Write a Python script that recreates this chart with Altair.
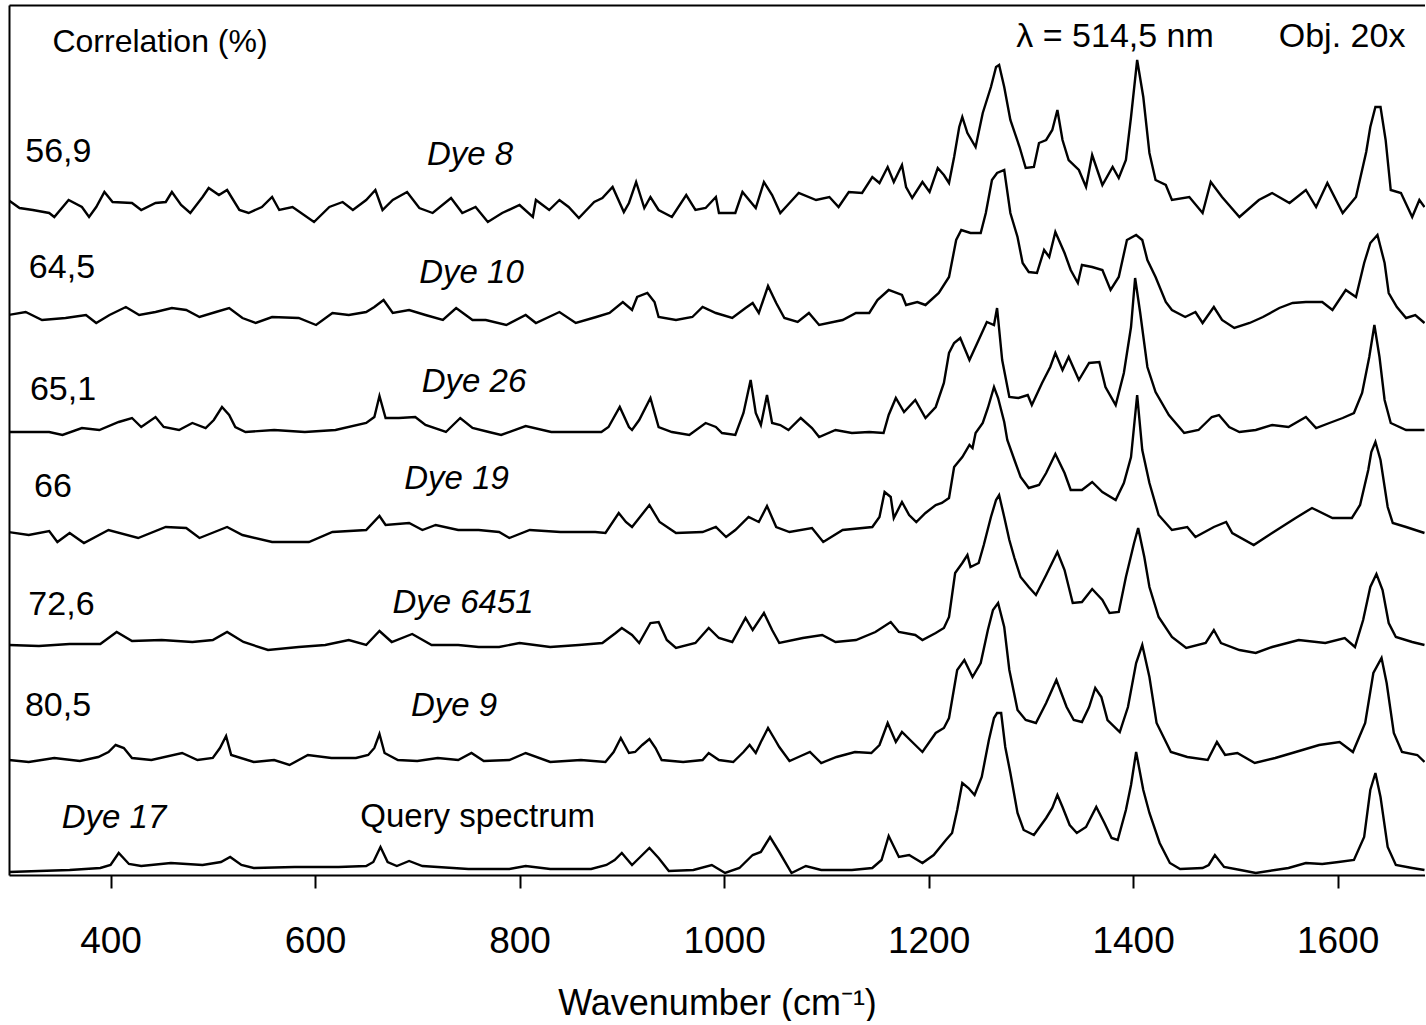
import altair as alt
import pandas as pd

# ---- spectra: (wavenumber cm-1, stacked height in display units) ----
DYE8 = [(300,675),(311,667),(324,665),(340,662),(345,658),(359,675),(372,668),(379,658),(386,668),(394,683),(402,673),(421,672),(430,665),(444,672),(454,673),(460,683),(469,670),(478,662),(490,678),(496,687),(506,680),(514,685),(526,665),(535,662),(548,668),(558,678),(565,665),(578,668),(599,653),(614,668),(627,673),(637,665),(650,675),(659,685),(666,665),(676,675),(690,683),(702,667),(715,662),(733,677),(744,662),(757,668),(769,653),(783,662),(800,670),(813,658),(816,675),(829,665),(839,675),(848,668),(858,657),(873,673),(881,677),(891,688),(902,663),(907,672),(914,693),(922,667),(928,678),(936,665),(949,658),(963,680),(972,665),(982,667),(992,678),(995,662),(1011,662),(1018,683),(1031,667),(1039,693),(1047,680),(1055,662),(1064,672),(1073,682),(1090,675),(1103,678),(1112,668),(1122,683),(1135,682),(1145,698),(1152,692),(1160,708),(1166,693),(1174,710),(1178,688),(1184,677),(1194,693),(1201,683),(1209,707),(1215,700),(1220,692),(1225,718),(1230,748),(1233,758),(1238,742),(1246,728),(1253,762),(1261,788),(1266,808),(1269,810),(1274,788),(1280,755),(1289,728),(1295,707),(1303,708),(1308,732),(1315,735),(1321,745),(1326,765),(1331,735),(1337,715),(1347,705),(1354,688),(1360,720),(1370,690),(1380,708),(1386,697),(1393,715),(1398,758),(1404,815),(1410,778),(1416,722),(1422,695),(1432,690),(1438,675),(1455,678),(1468,662),(1476,693),(1487,678),(1504,658),(1523,675),(1536,682),(1553,672),(1569,685),(1579,668),(1590,692),(1605,662),(1618,678),(1628,723),(1632,748),(1637,768),(1642,768),(1647,735),(1652,685),(1662,682),(1673,658),(1680,675),(1685,668)]

DYE10 = [(300,560),(317,563),(333,555),(356,557),(376,560),(386,552),(399,560),(415,568),(428,560),(444,563),(460,567),(474,565),(487,558),(503,563),(516,567),(529,557),(542,552),(558,558),(584,557),(601,550),(617,562),(633,560),(650,563),(658,568),(667,575),(676,562),(692,565),(708,560),(725,555),(738,567),(754,555),(767,555),(787,550),(806,560),(816,552),(839,563),(855,552),(875,558),(888,562),(901,573),(910,565),(915,578),(925,582),(932,573),(936,558),(953,555),(969,558),(979,568),(992,562),(1008,557),(1021,567),(1028,572),(1034,562),(1043,589),(1051,572),(1059,557),(1072,553),(1083,562),(1093,550),(1116,555),(1129,562),(1142,562),(1150,575),(1161,585),(1174,580),(1178,570),(1189,573),(1197,570),(1210,582),(1220,598),(1227,635),(1232,645),(1241,642),(1251,642),(1256,662),(1262,695),(1267,702),(1274,705),(1280,662),(1287,638),(1292,612),(1298,603),(1306,602),(1313,625),(1318,618),(1324,643),(1333,622),(1339,605),(1346,592),(1350,610),(1360,608),(1370,605),(1378,585),(1386,598),(1394,635),(1403,640),(1409,635),(1414,615),(1422,598),(1432,573),(1438,565),(1451,558),(1461,563),(1468,552),(1479,568),(1487,555),(1499,547),(1514,552),(1527,558),(1543,567),(1556,572),(1569,573),(1585,573),(1595,565),(1608,585),(1618,578),(1626,612),(1632,632),(1639,640),(1646,612),(1650,582),(1658,568),(1667,557),(1676,560),(1685,552)]

DYE26 = [(300,443),(340,443),(353,440),(372,447),(389,445),(408,453),(421,457),(430,448),(444,458),(452,448),(467,445),(480,452),(493,447),(501,455),(509,468),(516,460),(522,448),(532,443),(560,445),(590,443),(620,445),(650,452),(658,458),(663,479),(669,457),(682,457),(698,458),(708,450),(728,443),(742,457),(754,447),(770,443),(782,440),(806,449),(831,443),(860,443),(880,443),(887,448),(898,468),(907,448),(910,445),(917,455),(928,477),(936,448),(949,443),(966,440),(982,452),(992,448),(998,442),(1011,440),(1019,462),(1026,495),(1031,462),(1036,450),(1042,480),(1047,452),(1055,450),(1063,445),(1075,457),(1086,447),(1093,438),(1109,445),(1125,442),(1142,443),(1156,442),(1161,460),(1168,477),(1176,463),(1187,475),(1197,457),(1207,468),(1215,492),(1220,522),(1225,532),(1231,537),(1240,515),(1249,535),(1257,553),(1264,550),(1267,567),(1272,515),(1279,478),(1288,477),(1297,480),(1301,470),(1311,492),(1319,508),(1324,522),(1331,505),(1337,518),(1347,495),(1357,512),(1367,513),(1373,488),(1383,470),(1391,502),(1398,548),(1402,597),(1407,562),(1414,508),(1422,483),(1435,460),(1450,442),(1464,445),(1477,458),(1484,460),(1494,448),(1504,443),(1520,445),(1536,450),(1552,448),(1569,458),(1579,447),(1592,452),(1605,457),(1616,462),(1624,482),(1631,518),(1636,550),(1641,518),(1646,475),(1652,452),(1667,445),(1685,445)]

DYE19 = [(300,343),(320,340),(340,344),(348,333),(360,342),(374,332),(398,345),(427,337),(454,348),(474,347),(487,337),(514,348),(529,340),(558,333),(594,333),(617,343),(650,345),(663,359),(669,350),(692,352),(705,345),(718,350),(740,345),(760,345),(780,343),(790,337),(810,345),(840,343),(874,343),(884,342),(897,362),(904,353),(910,348),(917,357),(927,370),(937,353),(953,342),(979,343),(992,348),(1002,338),(1011,345),(1024,358),(1034,353),(1042,369),(1051,348),(1064,343),(1086,347),(1097,333),(1116,345),(1145,348),(1152,358),(1157,383),(1163,378),(1166,357),(1174,373),(1181,360),(1188,353),(1197,362),(1207,370),(1213,372),(1220,377),(1225,408),(1233,418),(1240,430),(1243,427),(1246,442),(1253,452),(1258,467),(1264,488),(1268,477),(1274,453),(1277,435),(1284,415),(1290,398),(1298,387),(1308,390),(1315,402),(1324,421),(1333,402),(1339,385),(1350,385),(1360,393),(1370,383),(1383,375),(1391,392),(1398,418),(1404,480),(1409,425),(1416,392),(1425,360),(1438,345),(1453,348),(1461,338),(1479,348),(1491,353),(1497,342),(1518,330),(1536,342),(1559,357),(1575,367),(1595,357),(1614,357),(1622,370),(1630,405),(1633,423),(1637,433),(1642,415),(1649,368),(1654,352),(1667,348),(1685,342)]

DYE6451 = [(300,230),(330,229),(360,231),(390,231),(406,243),(421,234),(450,235),(480,233),(500,235),(514,243),(530,233),(554,225),(584,228),(610,230),(633,235),(650,230),(663,244),(675,233),(695,241),(714,230),(740,230),(760,228),(780,228),(800,232),(830,228),(858,230),(881,232),(894,242),(900,247),(910,240),(917,232),(928,252),(936,253),(944,235),(953,227),(972,232),(985,247),(995,237),(1008,233),(1021,257),(1028,245),(1039,262),(1047,245),(1054,232),(1077,237),(1096,240),(1109,233),(1129,235),(1148,243),(1163,253),(1171,243),(1187,240),(1194,235),(1207,242),(1215,247),(1220,258),(1226,302),(1233,312),(1238,320),(1241,308),(1249,312),(1254,330),(1261,358),(1266,375),(1269,380),(1274,358),(1279,335),(1284,317),(1290,298),(1298,288),(1305,280),(1315,300),(1326,323),(1333,305),(1341,272),(1350,273),(1360,286),(1370,275),(1377,262),(1386,263),(1393,298),(1401,332),(1405,347),(1411,318),(1416,288),(1425,258),(1438,238),(1452,227),(1471,232),(1479,245),(1486,232),(1504,225),(1520,222),(1536,228),(1562,235),(1588,232),(1607,237),(1617,228),(1625,255),(1632,288),(1638,301),(1644,285),(1650,252),(1657,238),(1673,233),(1685,230)]

DYE9 = [(300,115),(320,113),(345,117),(370,114),(388,118),(398,123),(405,130),(413,127),(421,117),(440,115),(470,122),(485,115),(500,117),(507,127),(513,139),(518,120),(540,113),(560,115),(575,110),(593,120),(616,117),(640,117),(652,120),(658,127),(663,141),(668,122),(681,115),(700,114),(720,117),(740,115),(753,122),(765,114),(790,115),(806,122),(830,113),(860,115),(884,113),(892,123),(899,137),(907,122),(913,123),(920,130),(927,136),(933,127),(939,115),(960,113),(979,115),(985,122),(995,115),(1009,113),(1019,123),(1025,130),(1031,122),(1036,133),(1043,147),(1050,135),(1054,128),(1064,114),(1075,119),(1084,123),(1095,112),(1110,118),(1128,123),(1144,122),(1152,130),(1160,152),(1168,133),(1174,143),(1184,133),(1194,123),(1207,142),(1215,147),(1220,157),(1228,205),(1235,215),(1243,198),(1251,212),(1258,245),(1263,265),(1268,272),(1274,248),(1279,205),(1287,165),(1295,155),(1305,152),(1315,172),(1325,195),(1335,168),(1342,155),(1350,153),(1357,168),(1363,187),(1369,178),(1375,155),(1387,143),(1395,168),(1403,212),(1409,230),(1416,198),(1423,152),(1437,123),(1453,118),(1473,115),(1482,133),(1490,120),(1502,122),(1519,112),(1539,117),(1559,123),(1582,130),(1602,133),(1615,123),(1627,152),(1635,202),(1643,217),(1648,192),(1655,142),(1663,123),(1678,120),(1685,113)]

QUERY = [(300,3),(330,4),(360,5),(390,7),(400,10),(408,22),(418,11),(430,9),(459,12),(490,10),(508,13),(517,18),(528,10),(540,7),(580,8),(623,8),(650,9),(657,13),(664,28),(671,13),(680,9),(692,14),(705,9),(750,6),(790,6),(806,9),(830,6),(870,6),(885,10),(893,15),(900,22),(910,10),(918,18),(927,27),(936,17),(946,4),(970,5),(988,10),(1001,2),(1015,7),(1028,20),(1036,23),(1045,38),(1054,23),(1066,2),(1080,9),(1095,5),(1125,5),(1145,7),(1154,15),(1161,39),(1171,18),(1181,20),(1194,12),(1205,20),(1217,35),(1223,42),(1228,65),(1233,92),(1239,87),(1245,80),(1252,98),(1259,135),(1264,157),(1267,162),(1271,162),(1275,128),(1280,102),(1287,62),(1293,45),(1303,40),(1315,57),(1321,67),(1326,80),(1331,68),(1338,50),(1345,42),(1354,48),(1364,68),(1372,52),(1379,37),(1385,35),(1393,65),(1398,90),(1403,123),(1410,85),(1416,62),(1426,32),(1436,12),(1446,6),(1468,7),(1474,10),(1480,20),(1489,8),(1505,5),(1520,2),(1552,7),(1569,12),(1585,11),(1601,13),(1616,15),(1626,38),(1632,85),(1637,102),(1642,78),(1649,28),(1657,10),(1673,7),(1685,5)]

SERIES_NAMES = ["Dye 8", "Dye 10", "Dye 26", "Dye 19", "Dye 6451", "Dye 9", "Query spectrum"]
SERIES_DATA = [DYE8, DYE10, DYE26, DYE19, DYE6451, DYE9, QUERY]

# ---- annotations ----
CORR_TEXT = ["56,9", "64,5", "65,1", "66", "72,6", "80,5"]
CORR_X = [349, 352.5, 353.5, 343.7, 352, 348.6]
CORR_Y = [713, 597, 475, 378, 260, 159]

DYE_TEXT = ["Dye 8", "Dye 10", "Dye 26", "Dye 19", "Dye 6451", "Dye 9", "Dye 17"]
DYE_X = [751.6, 753, 755.5, 738.4, 744.7, 735.9, 403.4]
DYE_Y = [710, 592, 483, 386, 262, 159, 47]

PLAIN_TEXT = ["Query spectrum", "Correlation (%)", "λ = 514,5 nm", "Obj. 20x"]
PLAIN_X = [759, 448.4, 1382.4, 1604.4]
PLAIN_Y = [48, 823, 828, 828]
PLAIN_SIZE = [33, 32, 34, 34]

TICKS = [400, 600, 800, 1000, 1200, 1400, 1600]
X_DOMAIN = [300.7, 1685.5]
Y_DOMAIN = [0, 870]

FONT = "Liberation Sans"

rows = []
for name, pts in zip(SERIES_NAMES, SERIES_DATA):
    for w, h in pts:
        rows.append({"series": name, "wavenumber": w, "height": h})
spec_df = pd.DataFrame(rows)

corr_df = pd.DataFrame({"label": CORR_TEXT, "wavenumber": CORR_X, "height": CORR_Y})
dye_df = pd.DataFrame({"label": DYE_TEXT, "wavenumber": DYE_X, "height": DYE_Y})
plain_df = pd.DataFrame({"label": PLAIN_TEXT, "wavenumber": PLAIN_X, "height": PLAIN_Y, "size": PLAIN_SIZE})

xscale = alt.Scale(domain=X_DOMAIN, nice=False, zero=False)
yscale = alt.Scale(domain=Y_DOMAIN, nice=False, zero=False)

lines = alt.Chart(spec_df).mark_line(color="black", strokeWidth=2.4, clip=True).encode(
    x=alt.X(
        "wavenumber:Q",
        scale=xscale,
        axis=alt.Axis(
            values=TICKS,
            format="d",
            grid=False,
            tickSize=13,
            tickWidth=2,
            tickColor="black",
            domainColor="black",
            domainWidth=2,
            labelFont=FONT,
            labelFontSize=37,
            labelColor="black",
            labelPadding=64,
            labelBaseline="alphabetic",
            labelFlush=False,
            title="Wavenumber (cm⁻¹)",
            titleFont=FONT,
            titleFontSize=36,
            titleFontWeight="normal",
            titleColor="black",
            titleBaseline="alphabetic",
            titleY=139,
        ),
    ),
    y=alt.Y(
        "height:Q",
        scale=yscale,
        axis=alt.Axis(
            domain=True,
            ticks=False,
            labels=False,
            grid=False,
            title=None,
            domainColor="black",
            domainWidth=2,
        ),
    ),
    detail="series:N",
    order="wavenumber:Q",
)

corr_text = alt.Chart(corr_df).mark_text(
    font=FONT, fontSize=34, align="center", baseline="alphabetic", color="black"
).encode(
    x=alt.X("wavenumber:Q", scale=xscale, axis=None),
    y=alt.Y("height:Q", scale=yscale, axis=None),
    text="label:N",
)

dye_text = alt.Chart(dye_df).mark_text(
    font=FONT, fontSize=33, fontStyle="italic", align="center", baseline="alphabetic", color="black"
).encode(
    x=alt.X("wavenumber:Q", scale=xscale, axis=None),
    y=alt.Y("height:Q", scale=yscale, axis=None),
    text="label:N",
)

plain_text = alt.Chart(plain_df).mark_text(
    font=FONT, align="center", baseline="alphabetic", color="black"
).encode(
    x=alt.X(
        "wavenumber:Q",
        scale=xscale,
        axis=alt.Axis(
            orient="top",
            labels=False,
            ticks=False,
            grid=False,
            title=None,
            domain=True,
            domainColor="black",
            domainWidth=2,
        ),
    ),
    y=alt.Y("height:Q", scale=yscale, axis=None),
    text="label:N",
    size=alt.Size("size:Q", scale=None, legend=None),
)

chart = (
    alt.layer(lines, corr_text, dye_text, plain_text)
    .resolve_axis(x="independent", y="independent")
    .properties(
        width=1416,
        height=870,
        padding={"left": 9, "top": 5, "right": 0, "bottom": 0},
        background="white",
    )
    .configure_view(stroke=None)
)

chart.save("out.html", embed_options={"renderer": "svg", "actions": False})
